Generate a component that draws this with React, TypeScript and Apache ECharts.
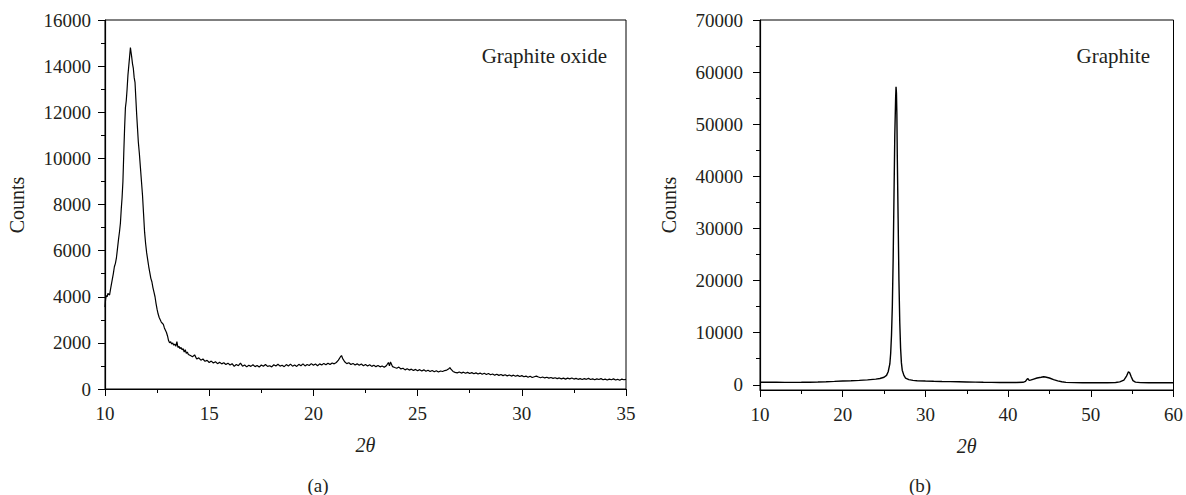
import React, { useEffect, useRef } from "react";
import * as echarts from "echarts";

// Panel (a): Graphite oxide — 2θ vs Counts
const goTheta = [
  10.0, 10.03, 10.06, 10.1, 10.14, 10.18, 10.22, 10.26, 10.3, 10.35, 10.4, 10.45, 10.5, 10.55, 10.6, 10.65, 10.7, 10.74, 10.78, 10.82,
  10.86, 10.9, 10.94, 10.98, 11.02, 11.06, 11.1, 11.14, 11.18, 11.22, 11.25, 11.28, 11.32, 11.36, 11.4, 11.44, 11.48, 11.52, 11.56, 11.6,
  11.65, 11.7, 11.75, 11.8, 11.85, 11.9, 11.95, 12.0, 12.05, 12.1, 12.15, 12.2, 12.25, 12.3, 12.35, 12.4, 12.45, 12.5, 12.55, 12.6,
  12.65, 12.7, 12.75, 12.8, 12.85, 12.9, 12.95, 13.0, 13.05, 13.1, 13.15, 13.2, 13.25, 13.3, 13.35, 13.4, 13.45, 13.5, 13.55, 13.6,
  13.65, 13.7, 13.75, 13.8, 13.85, 13.9, 13.95, 14.0, 14.1, 14.2, 14.3, 14.4, 14.5, 14.6, 14.7, 14.8, 14.9, 15.0, 15.1, 15.2,
  15.3, 15.4, 15.5, 15.6, 15.7, 15.8, 15.9, 16.0, 16.1, 16.2, 16.3, 16.4, 16.5, 16.6, 16.7, 16.8, 16.9, 17.0, 17.1, 17.2,
  17.3, 17.4, 17.5, 17.6, 17.7, 17.8, 17.9, 18.0, 18.1, 18.2, 18.3, 18.4, 18.5, 18.6, 18.7, 18.8, 18.9, 19.0, 19.1, 19.2,
  19.3, 19.4, 19.5, 19.6, 19.7, 19.8, 19.9, 20.0, 20.1, 20.2, 20.3, 20.4, 20.5, 20.6, 20.7, 20.8, 20.9, 21.0, 21.1, 21.2,
  21.3, 21.35, 21.4, 21.5, 21.6, 21.7, 21.8, 21.9, 22.0, 22.1, 22.2, 22.3, 22.4, 22.5, 22.6, 22.7, 22.8, 22.9, 23.0, 23.1,
  23.2, 23.3, 23.4, 23.5, 23.6, 23.65, 23.7, 23.8, 23.9, 24.0, 24.1, 24.2, 24.3, 24.4, 24.5, 24.6, 24.7, 24.8, 24.9, 25.0,
  25.1, 25.2, 25.3, 25.4, 25.5, 25.6, 25.7, 25.8, 25.9, 26.0, 26.1, 26.2, 26.3, 26.4, 26.5, 26.55, 26.6, 26.7, 26.8, 26.9,
  27.0, 27.1, 27.2, 27.3, 27.4, 27.5, 27.6, 27.7, 27.8, 27.9, 28.0, 28.1, 28.2, 28.3, 28.4, 28.5, 28.6, 28.7, 28.8, 28.9,
  29.0, 29.1, 29.2, 29.3, 29.4, 29.5, 29.6, 29.7, 29.8, 29.9, 30.0, 30.1, 30.2, 30.3, 30.4, 30.5, 30.6, 30.7, 30.8, 30.9,
  31.0, 31.1, 31.2, 31.3, 31.4, 31.5, 31.6, 31.7, 31.8, 31.9, 32.0, 32.1, 32.2, 32.3, 32.4, 32.5, 32.6, 32.7, 32.8, 32.9,
  33.0, 33.1, 33.2, 33.3, 33.4, 33.5, 33.6, 33.7, 33.8, 33.9, 34.0, 34.1, 34.2, 34.3, 34.4, 34.5, 34.6, 34.7, 34.8, 34.9,
  35.0,
];
const goCounts = [
  3550, 3900, 4050, 4000, 4150, 4100, 4080, 4300, 4500, 4750, 5000, 5300, 5450, 5700, 6100, 6500, 6850, 7200, 7800, 8300,
  9000, 10200, 11300, 12200, 12500, 13000, 13600, 14000, 14400, 14800, 14600, 14400, 14100, 13900, 13500, 13300, 12600, 11900, 11300, 10700,
  10200, 9600, 9000, 8400, 7600, 6800, 6300, 5900, 5600, 5300, 5050, 4800, 4650, 4400, 4200, 4000, 3700, 3450, 3250, 3100,
  3000, 2900, 2850, 2800, 2650, 2550, 2450, 2300, 2100, 2000, 2050, 1950, 2000, 1900, 1950, 1850, 2050, 1800, 1850, 1750,
  1800, 1700, 1750, 1600, 1700, 1550, 1600, 1500, 1450, 1400, 1480, 1300, 1350, 1250, 1300, 1200, 1240, 1150, 1210, 1130,
  1180, 1100, 1160, 1090, 1140, 1060, 1120, 1040, 1100, 980, 1060, 1010, 1120, 990, 1040, 960, 1030, 980, 1050, 970,
  1020, 950, 1040, 990, 1060, 980, 1010, 960, 1050, 1000, 1070, 990, 1030, 970, 1060, 1000, 1080, 990, 1040, 980,
  1070, 1010, 1090, 1000, 1060, 1020, 1100, 1030, 1080, 1010, 1090, 1040, 1110, 1050, 1120, 1060, 1130, 1090, 1150, 1250,
  1400, 1450, 1330, 1180, 1100, 1140, 1060, 1110, 1040, 1090, 1030, 1080, 1010, 1060, 1000, 1050, 980, 1030, 970, 1020,
  960, 1000, 940, 1010, 1150, 1000, 1170, 970, 930, 900, 950, 870, 900, 830, 880, 820, 860, 800, 850, 790,
  840, 780, 830, 770, 810, 760, 800, 750, 790, 740, 780, 760, 800, 820, 880, 930, 860, 760, 720, 700,
  740, 690, 730, 680, 720, 670, 710, 660, 700, 650, 690, 640, 680, 630, 670, 620, 650, 600, 640, 590,
  630, 580, 620, 570, 610, 560, 600, 550, 590, 540, 580, 530, 560, 510, 550, 500, 530, 560, 520, 490,
  520, 480, 510, 470, 500, 460, 490, 450, 480, 440, 470, 430, 470, 440, 480, 430, 460, 420, 450, 410,
  450, 420, 460, 410, 440, 400, 440, 410, 450, 400, 430, 390, 430, 400, 440, 390, 420, 380, 430, 400,
  420,
];

// Panel (b): Graphite — 2θ vs Counts
const grTheta = [
  10, 11, 12, 13, 14, 15, 16, 17, 18, 19, 20, 21, 22, 23, 24, 24.5, 25.0, 25.3, 25.5, 25.7,
  25.8, 25.9, 26.0, 26.1, 26.2, 26.3, 26.4, 26.45, 26.5, 26.55, 26.6, 26.7, 26.8, 26.9, 27.0, 27.1, 27.2, 27.4, 27.6, 28.0,
  28.5, 29, 30, 31, 32, 33, 34, 35, 36, 37, 38, 39, 40, 41, 41.8, 42.1, 42.3, 42.4, 42.55, 42.7,
  43.0, 43.5, 44.0, 44.3, 44.5, 45.0, 45.5, 46.0, 46.5, 47, 48, 49, 50, 51, 52, 53, 53.5, 54.0, 54.3, 54.55,
  54.7, 54.9, 55.1, 55.4, 56, 57, 58, 59, 60,
];
const grCounts = [
  500, 490, 480, 470, 470, 480, 500, 540, 590, 650, 720, 780, 850, 940, 1080, 1200, 1450, 1800, 2500, 4000,
  6000, 9500, 15000, 24000, 36000, 48000, 55000, 57200, 56000, 52000, 44000, 32000, 20000, 12000, 7000, 4200, 2800, 1800, 1300, 1000,
  850, 780, 720, 670, 630, 600, 570, 540, 510, 480, 460, 450, 440, 450, 480, 650, 1100, 1200, 850, 900,
  1050, 1300, 1450, 1550, 1500, 1300, 1000, 750, 580, 470, 420, 400, 390, 390, 400, 450, 550, 900, 1600, 2500,
  2300, 1500, 800, 520, 420, 400, 390, 390, 390,
];

const leftYTicks = [0, 2000, 4000, 6000, 8000, 10000, 12000, 14000, 16000];
const rightYTicks = [0, 10000, 20000, 30000, 40000, 50000, 60000, 70000];
const rightYMinor = [5000, 15000, 25000, 35000, 45000, 55000, 65000];

const FONT = "Liberation Serif";
const INK = "#231f20";

export default function App() {
  const ref = useRef<HTMLDivElement>(null);
  useEffect(() => {
    if (!ref.current) return;
    const chart = echarts.init(ref.current, null, { renderer: "svg" });
    const goData = goTheta.map((x, i) => [x, goCounts[i]]);
    const grData = grTheta.map((x, i) => [x, grCounts[i]]);
    const axisLine = { show: true, onZero: false, lineStyle: { color: "#000", width: 1.2 } };
    const tick = { show: true, inside: false, length: 7, lineStyle: { color: "#000", width: 1 } };
    const minor = { show: true, splitNumber: 2, length: 4, lineStyle: { color: "#000", width: 1 } };
    const plain = (v: number) => String(v);
    const lbl = (margin: number) => ({ color: INK, fontFamily: FONT, fontSize: 19, margin, formatter: plain });
    const xName = {
      name: "2θ",
      nameLocation: "middle" as const,
      nameGap: 46,
      nameTextStyle: { color: INK, fontFamily: FONT, fontSize: 20, fontStyle: "italic" },
    };
    const txt = (text: string, size: number, align: string) => ({
      text, fill: INK, fontFamily: FONT, fontSize: size, align, verticalAlign: "middle",
    });
    chart.setOption({
      animation: false,
      textStyle: { fontFamily: FONT },
      grid: [
        { left: 105, top: 20, width: 521, height: 369, show: true, borderColor: "#000", borderWidth: 1, containLabel: false },
        { left: 760, top: 20, width: 415, height: 370, show: true, borderColor: "#000", borderWidth: 1, containLabel: false },
      ],
      xAxis: [
        {
          type: "value", gridIndex: 0, min: 10, max: 35, interval: 5,
          axisLine, axisTick: tick, minorTick: minor, splitLine: { show: false },
          axisLabel: lbl(15), ...xName,
        },
        {
          type: "value", gridIndex: 1, min: 10, max: 60, interval: 10,
          axisLine, axisTick: tick, minorTick: minor, splitLine: { show: false },
          axisLabel: lbl(15), ...xName,
        },
      ],
      yAxis: [
        {
          type: "value", gridIndex: 0, min: leftYTicks[0], max: leftYTicks[leftYTicks.length - 1], interval: 2000,
          axisLine, axisTick: tick, minorTick: minor, splitLine: { show: false },
          axisLabel: lbl(14),
        },
        {
          type: "value", gridIndex: 1, min: -1000, max: 70000,
          axisLine, splitLine: { show: false },
          axisTick: { ...tick, customValues: rightYTicks },
          axisLabel: { ...lbl(17), customValues: rightYTicks },
        },
        {
          type: "value", gridIndex: 1, min: -1000, max: 70000, position: "left",
          axisLine: { show: false }, splitLine: { show: false },
          axisTick: { show: true, length: 4, lineStyle: { color: "#000", width: 1 }, customValues: rightYMinor },
          axisLabel: { show: false, customValues: rightYMinor },
        },
      ],
      series: [
        {
          type: "line", xAxisIndex: 0, yAxisIndex: 0, data: goData, showSymbol: false,
          lineStyle: { color: "#000", width: 1.2 }, silent: true,
        },
        {
          type: "line", xAxisIndex: 1, yAxisIndex: 1, data: grData, showSymbol: false,
          lineStyle: { color: "#000", width: 1.4 }, silent: true,
        },
      ],
      graphic: [
        { type: "text", x: 17, y: 205, rotation: Math.PI / 2, style: txt("Counts", 20, "center") },
        { type: "text", x: 669, y: 205, rotation: Math.PI / 2, style: txt("Counts", 20, "center") },
        { type: "text", x: 607, y: 56, style: txt("Graphite oxide", 21, "right") },
        { type: "text", x: 1150, y: 56, style: txt("Graphite", 21, "right") },
        { type: "text", x: 318, y: 485, style: txt("(a)", 19, "center") },
        { type: "text", x: 920, y: 485, style: txt("(b)", 19, "center") },
      ],
    });
    return () => chart.dispose();
  }, []);
  return <div ref={ref} style={{ position: "absolute", left: 0, top: 0, width: 1186, height: 495 }} />;
}
